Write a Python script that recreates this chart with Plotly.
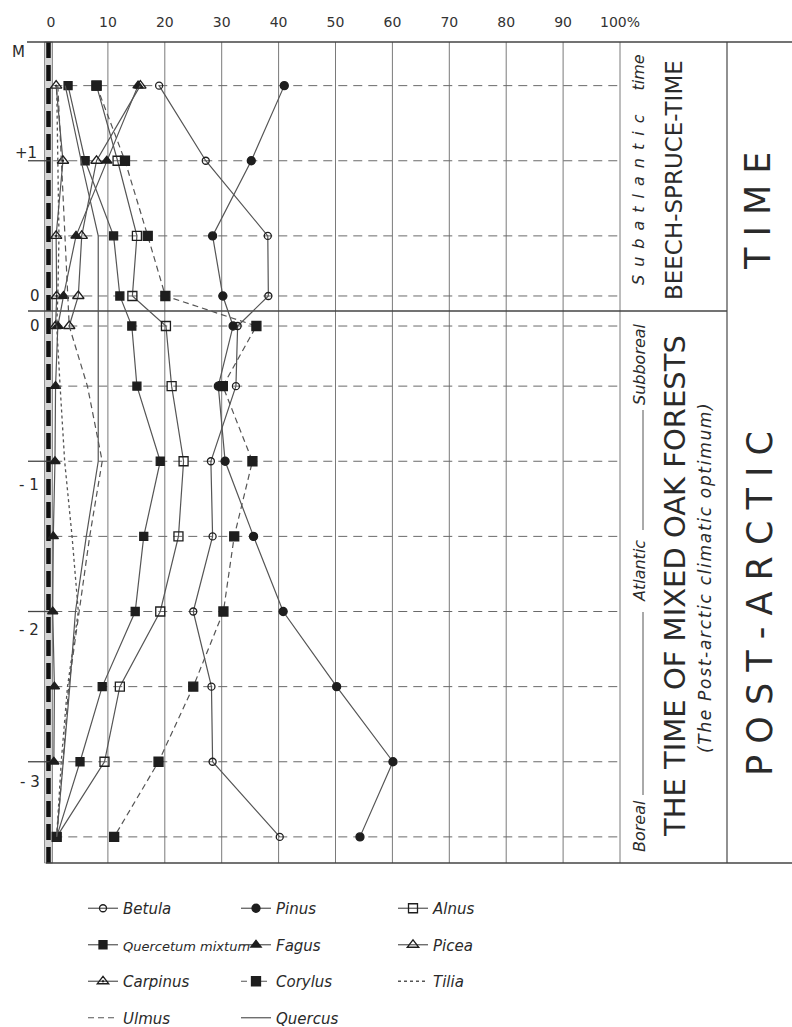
import plotly.graph_objects as go

# ---------------- data ----------------
depth_m = [1.5, 1.0, 0.5, 0.1, -0.1, -0.5, -1.0, -1.5, -2.0, -2.5, -3.0, -3.5]

betula    = [19.0, 27.2, 38.1, 38.2, 32.8, 32.5, 28.1, 28.4, 25.0, 28.2, 28.4, 40.2]
pinus     = [41.0, 35.2, 28.4, 30.2, 32.0, 29.4, 30.6, 35.6, 40.8, 50.2, 60.1, 54.3]
alnus     = [8.0, 11.7, 15.1, 14.3, 20.2, 21.2, 23.3, 22.4, 19.2, 12.1, 9.4, 1.0]
quercetum = [3.0, 6.0, 11.0, 12.1, 14.2, 15.1, 19.2, 16.3, 14.8, 9.0, 5.1, 1.0]
fagus     = [15.3, 9.8, 4.4, 2.2, 1.2, 0.8, 0.7, 0.4, 0.3, 0.6, 0.5, None]
picea     = [15.7, 8.0, 5.4, 4.8, 3.2, None, None, None, None, None, None, None]
carpinus  = [0.9, 2.1, 0.9, 1.0, 0.8, None, None, None, None, None, None, None]
corylus   = [8.0, 13.0, 17.0, 20.1, 36.1, 30.2, 35.4, 32.2, 30.3, 25.0, 18.9, 11.1]
tilia     = [1.0, 1.2, 1.4, 1.2, 1.0, 1.6, 2.4, 3.7, 4.8, 2.9, 1.8, 1.0]
ulmus     = [1.2, 1.8, 2.4, 3.0, 3.2, 6.4, 9.0, 6.8, 5.0, 3.1, 2.1, 1.0]
quercus   = [2.5, 5.3, 8.3, 8.3, 8.3, 8.3, 8.3, 6.2, 4.3, 3.3, 2.2, 1.0]

x_ticks = [0, 10, 20, 30, 40, 50, 60, 70, 80, 90, 100]
x_tick_labels = ["0", "10", "20", "30", "40", "50", "60", "70", "80", "90", "100%"]
depth_ticks = [1, -1, -2, -3]
depth_tick_labels = ["+1", "- 1", "- 2", "- 3"]

# ---------------- layout helpers (pixel -> axis units) ----------------
W, H = 792, 1027
PLOT_TOP, PLOT_BOT = 38, 868


def X(p):
    return (p - 51) / 5.69


def Y(p):
    return (311 - p) / 150.25


FONT = "DejaVu Sans"
TXT = "#2a2a2a"
LC = "#555555"
MC = "#1e1e1e"
GRID = "#7a7a7a"

fig = go.Figure()


def add(xs, name, legend, symbol=None, size=8, dash="solid", width=1.2):
    mode = "lines+markers" if symbol else "lines"
    kw = dict(x=xs, y=depth_m, mode=mode, name=name, legend=legend,
              legendgroup=name, line=dict(color=LC, width=width, dash=dash),
              hoverinfo="skip")
    if symbol:
        kw["marker"] = dict(symbol=symbol, size=size, color=MC,
                            line=dict(color=MC, width=1.3))
    fig.add_trace(go.Scatter(**kw))


add(betula, "Betula", "legend", "circle-open", 7)
add(pinus, "Pinus", "legend2", "circle", 8)
add(alnus, "Alnus", "legend3", "square-open", 9)
add(quercetum, "<span style='font-size:13px'>Quercetum mixtum</span>", "legend", "square", 8)
add(fagus, "Fagus", "legend2", "triangle-up", 9)
add(picea, "Picea", "legend3", "triangle-up-open", 10)
add(carpinus, "Carpinus", "legend", "triangle-up-open-dot", 10)
add(corylus, "Corylus", "legend2", "square", 9, dash="6px,4px")
add(tilia, "Tilia", "legend3", None, dash="dot", width=1.3)
add(ulmus, "Ulmus", "legend", None, dash="6px,4px")
add(quercus, "Quercus", "legend2", None)

shapes = []
ytop, ybot = Y(42), Y(863)

# grey band with thick dashed core line at the left edge
shapes.append(dict(type="rect", xref="x", yref="y", x0=X(44.5), x1=X(52.5),
                   y0=ybot, y1=ytop, fillcolor="#d4d4d4",
                   line=dict(color="#777", width=0.8), layer="below"))
shapes.append(dict(type="line", xref="x", yref="y", x0=X(48.5), x1=X(48.5),
                   y0=ybot, y1=ytop, line=dict(color="#111", width=4.5, dash="16px,7px"),
                   layer="below"))

# vertical grid lines
for t in x_ticks[1:]:
    shapes.append(dict(type="line", xref="x", yref="y", x0=t, x1=t, y0=ybot, y1=ytop,
                       line=dict(color=GRID, width=1), layer="below"))
# right column separator
shapes.append(dict(type="line", xref="x", yref="y", x0=X(727), x1=X(727), y0=ybot, y1=ytop,
                   line=dict(color="#555", width=1.3), layer="below"))
# top and bottom frame
shapes.append(dict(type="line", xref="x", yref="y", x0=X(27), x1=X(792), y0=ytop, y1=ytop,
                   line=dict(color="#444", width=1.6), layer="below"))
shapes.append(dict(type="line", xref="x", yref="y", x0=X(46), x1=X(792), y0=ybot, y1=ybot,
                   line=dict(color="#444", width=1.6), layer="below"))
# 0 m separator
shapes.append(dict(type="line", xref="x", yref="y", x0=X(28), x1=X(727), y0=0, y1=0,
                   line=dict(color="#444", width=1.4), layer="below"))
# depth tick marks
for d in depth_ticks:
    shapes.append(dict(type="line", xref="x", yref="y", x0=X(28), x1=0, y0=d, y1=d,
                       line=dict(color="#444", width=1.3), layer="below"))
# dashed sample levels
for d in depth_m:
    shapes.append(dict(type="line", xref="x", yref="y", x0=0.4, x1=100, y0=d, y1=d,
                       line=dict(color="#6a6a6a", width=1, dash="9px,6px"), layer="below"))
# Boreal - Atlantic - Subboreal connectors
for a, b in [(410, 530), (612, 795)]:
    shapes.append(dict(type="line", xref="x", yref="y", x0=X(643), x1=X(643), y0=Y(a), y1=Y(b),
                       line=dict(color="#555", width=1), layer="below"))

ann = []


def note(text, px, py, size, angle=0, color=TXT):
    ann.append(dict(text=text, x=X(px), y=Y(py), xref="x", yref="y", showarrow=False,
                    textangle=angle, xanchor="center", yanchor="middle",
                    font=dict(family=FONT, size=size, color=color)))


def spaced(s, sep):
    return sep.join(s)


# depth axis labels
note("M", 18, 52, 15)
note("0", 35, 296, 15)
note("0", 35, 326, 15)
label_px = {1: (26, 153), -1: (29, 485), -2: (29, 630), -3: (30, 782)}
for d, lab in zip(depth_ticks, depth_tick_labels):
    note(lab, *label_px[d], 15)

# right-hand column texts
note("<i>" + spaced("Subatlantic", "\u2002") + "\u2003\u2002time</i>", 638, 170, 16, -90)
note("BEECH-SPRUCE-TIME", 674, 180, 23, -90)
note("<i>Subboreal</i>", 639, 364, 16, -90)
note("<i>Atlantic</i>", 639, 571, 16, -90)
note("<i>Boreal</i>", 639, 826, 16, -90)
note("THE TIME OF MIXED OAK FORESTS", 675, 586, 29, -90)
note("<i>" + spaced("(The Post-arctic climatic optimum)", "\u200a") + "</i>", 705, 578, 17, -90)
note(spaced("TIME", " "), 758, 211, 35, -90)
note(spaced("POST-ARCTIC", " "), 760, 604, 35, -90)

ph = PLOT_BOT - PLOT_TOP
leg_y = (PLOT_BOT - 892) / ph
leg_common = dict(y=leg_y, yanchor="top", xanchor="left", bgcolor="rgba(0,0,0,0)",
                  borderwidth=0, tracegroupgap=14, itemwidth=30, itemclick=False,
                  font=dict(family=FONT, size=15, color=TXT, style="italic"))

fig.update_layout(
    width=W, height=H,
    margin=dict(l=0, r=0, t=PLOT_TOP, b=H - PLOT_BOT, autoexpand=False),
    paper_bgcolor="white", plot_bgcolor="white",
    xaxis=dict(range=[X(0), X(W)], side="top", tickvals=x_ticks, ticktext=x_tick_labels,
               showgrid=False, zeroline=False, showline=False, ticks="",
               ticklabelstandoff=7,
               tickfont=dict(family=FONT, size=14, color="#333")),
    yaxis=dict(range=[Y(PLOT_BOT), Y(PLOT_TOP)], visible=False),
    shapes=shapes,
    annotations=ann,
    showlegend=True,
    legend=dict(x=83 / W, **leg_common),
    legend2=dict(x=236 / W, **leg_common),
    legend3=dict(x=393 / W, **leg_common),
)

fig.write_html("out.html",
               config={"displayModeBar": False},
               post_script="document.body.style.margin='0';document.body.style.overflow='hidden';")
